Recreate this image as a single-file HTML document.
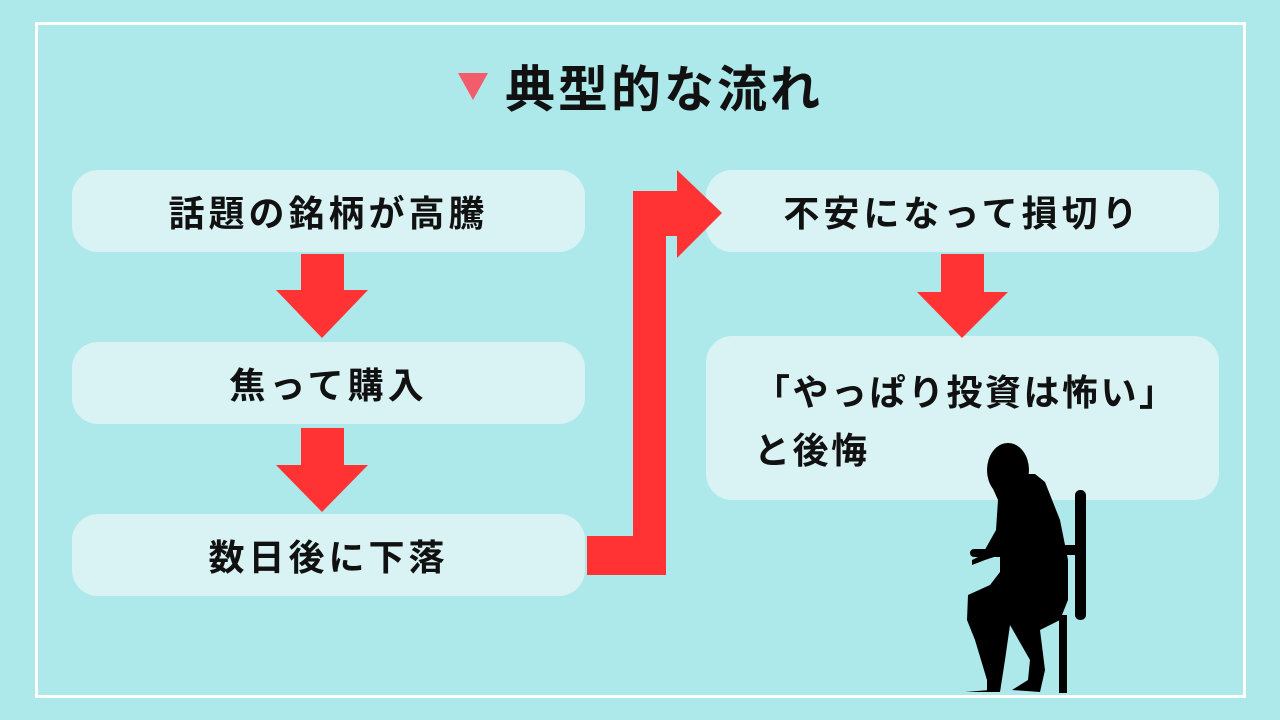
<!DOCTYPE html>
<html><head><meta charset="utf-8"><style>
body{margin:0;width:1280px;height:720px;background:#ade8ea;position:relative;overflow:hidden;font-family:"Liberation Sans","Noto Sans CJK JP",sans-serif;font-weight:bold;color:#111}
.frame{position:absolute;left:35px;top:22px;width:1205px;height:670px;border:3px solid #fff}
.box{position:absolute;background:#d9f3f4;border-radius:26px;display:flex;align-items:center;justify-content:center;font-size:36px;letter-spacing:4px}
.t{position:absolute;left:505px;top:56px;font-size:50px;letter-spacing:3px;line-height:68px}
</style></head><body>
<div class="frame"></div>
<svg width="1280" height="720" style="position:absolute;left:0;top:0">
<polygon points="458,73 488,73 473,100" fill="#f25c6b"/>
</svg>
<div class="t">典型的な流れ</div>
<div class="box" style="left:72px;top:170px;width:513px;height:82px">話題の銘柄が高騰</div>
<div class="box" style="left:72px;top:342px;width:513px;height:82px">焦って購入</div>
<div class="box" style="left:72px;top:514px;width:513px;height:82px">数日後に下落</div>
<div class="box" style="left:706px;top:170px;width:513px;height:82px">不安になって損切り</div>
<div class="box" style="left:706px;top:336px;width:513px;height:164px;justify-content:flex-start;align-items:flex-start;padding:28px 0 0 48px;box-sizing:border-box;line-height:58px;letter-spacing:2.5px">「やっぱり投資は怖い」<br>と後悔</div>
<svg width="1280" height="720" style="position:absolute;left:0;top:0">
<g fill="#ff3333">
<polygon points="301,254 344,254 344,290 368,290 322,338 276,290 301,290"/>
<polygon points="301,428 344,428 344,465 368,465 322,512 276,465 301,465"/>
<polygon points="941,254 984,254 984,292 1008,292 962,338 917,292 941,292"/>
<polygon points="587,536 633,536 633,191 677,191 677,170 722,213 677,258 677,236 666,236 666,575 587,575"/>
</g>
<g fill="#000">
<ellipse cx="1008" cy="470" rx="21" ry="27"/>
<polygon points="990,482 998,500 996,530 982,555 972,560 972,565 985,560 1000,555 1000,572 990,585 968,595 967,620 975,640 990,690 965,692 1000,692 1005,660 1010,625 1030,660 1028,680 1012,690 1040,692 1045,670 1040,630 1060,620 1068,600 1068,560 1060,520 1045,482 1035,474 1010,474"/>
<rect x="1075" y="490" width="11" height="130" rx="5"/>
<rect x="1058" y="545" width="26" height="10"/>
<rect x="1059" y="615" width="8" height="78"/>
<rect x="987" y="620" width="7" height="72"/>
<rect x="970" y="549" width="95" height="8" rx="4"/>
</g>
</svg>
</body></html>
